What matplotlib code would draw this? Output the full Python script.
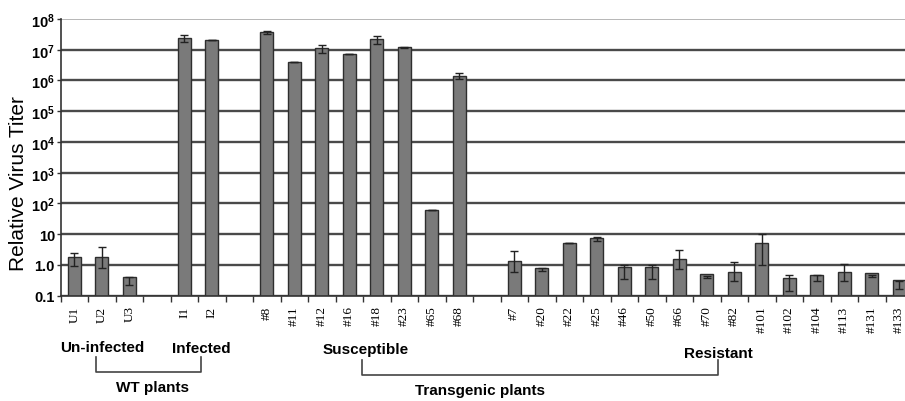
import numpy as np
import matplotlib
matplotlib.use('Agg')
import matplotlib.pyplot as plt
from matplotlib.lines import Line2D

plt.rcParams['font.family'] = ['Liberation Sans', 'DejaVu Sans']
plt.rcParams['mathtext.fontset'] = 'custom'
plt.rcParams['mathtext.bf'] = 'Liberation Sans:bold'
plt.rcParams['mathtext.rm'] = 'Liberation Sans:bold'

# data
group_sizes = [3, 2, 8, 15]
labels = ['U1', 'U2', 'U3',
          'I1', 'I2',
          '#8', '#11', '#12', '#16', '#18', '#23', '#65', '#68',
          '#7', '#20', '#22', '#25', '#46', '#50', '#66', '#70', '#82',
          '#101', '#102', '#104', '#113', '#131', '#133']
titer = [1.7, 1.7, 0.32,
         2.4e7, 2.1e7,
         3.7e7, 3.9e6, 1.1e7, 7.2e6, 2.2e7, 1.2e7, 61, 1.4e6,
         1.2, 0.72, 5.2, 7.2, 0.76, 0.76, 1.46, 0.41, 0.51,
         4.9, 0.29, 0.38, 0.51, 0.44, 0.23]
err_hi = [0.8, 2.2, 0.1,
          0.7e7, 0.05e7,
          0.4e7, 0.05e6, 0.3e7, 0.05e6, 0.7e7, 0.05e7, 1, 0.3e6,
          1.6, 0.1, 0.1, 1.2, 0.26, 0.26, 1.5, 0.02, 0.7,
          5.4, 0.17, 0.08, 0.6, 0.02, 0.07]
err_lo = [0.8, 0.9, 0.1,
          0.6e7, 0.05e7,
          0.4e7, 0.05e6, 0.3e7, 0.05e6, 0.7e7, 0.05e7, 1, 0.3e6,
          0.6, 0.1, 0.1, 1.2, 0.4, 0.4, 0.7, 0.02, 0.2,
          3.9, 0.15, 0.08, 0.2, 0.02, 0.07]
ytick_vals = [0.1, 1, 10, 1e2, 1e3, 1e4, 1e5, 1e6, 1e7, 1e8]
ytick_text = ['0.1', '1.0', '10', r'$\mathbf{10^{2}}$', r'$\mathbf{10^{3}}$',
              r'$\mathbf{10^{4}}$', r'$\mathbf{10^{5}}$', r'$\mathbf{10^{6}}$',
              r'$\mathbf{10^{7}}$', r'$\mathbf{10^{8}}$']

# slot positions, one empty slot between groups
pos = []
start = 0
for n in group_sizes:
    pos += list(range(start, start + n))
    start += n + 1
pos = np.array(pos)

W, H = 905, 402
fig = plt.figure(figsize=(W / 100, H / 100), dpi=100)
ax = fig.add_axes([60.5 / W, (H - 296.7) / H, 852.5 / W, 276.7 / H])

ax.set_yscale('log')
ax.set_ylim(0.1, 1e8)
ax.set_xlim(-0.5, 30.5)

for v in ytick_vals[:-1]:
    ax.axhline(v, color='#4a4a4a', lw=1.7, zorder=0)
ax.axhline(1e8, color='#aaaaaa', lw=1.2, zorder=0)

ax.bar(pos, titer, width=0.48, bottom=0.1, color='#7a7a7a',
       edgecolor='#2e2e2e', linewidth=1, zorder=2)
ax.errorbar(pos, titer, yerr=[err_lo, err_hi], fmt='none', ecolor='#222222',
            elinewidth=1, capsize=3, capthick=1, zorder=3)

ax.set_yticks(ytick_vals)
ax.set_yticklabels(ytick_text, fontsize=10.5, fontweight='bold')
ax.yaxis.set_minor_locator(matplotlib.ticker.NullLocator())
ax.tick_params(axis='y', length=3, width=1, pad=1, color='#333333')

ax.set_xticks(pos)
ax.set_xticklabels(labels, rotation=90, fontsize=9.5,
                   family=['Liberation Serif', 'DejaVu Serif'])
ax.tick_params(axis='x', length=0, pad=7)
ax.set_xticks(np.arange(-0.5, 31, 1), minor=True)
ax.tick_params(axis='x', which='minor', length=4, width=1, color='#333333')

for s in ['top', 'right']:
    ax.spines[s].set_visible(False)
ax.spines['left'].set_color('#333333')
ax.spines['bottom'].set_color('#333333')
ax.spines['left'].set_linewidth(1.2)
ax.spines['bottom'].set_linewidth(1.2)

ax.set_ylabel('Relative Virus Titer', fontsize=15)
ax.yaxis.set_label_coords(-0.038, 0.41)

# group labels and brackets (pixel coords)
def ftext(x, y, s):
    fig.text(x / W, 1 - y / H, s, ha='center', va='center',
             fontsize=11, fontweight='bold')

def bracket(x0, x1, ytop, ybot):
    xs = [x0 / W, x0 / W, x1 / W, x1 / W]
    ys = [1 - ytop / H, 1 - ybot / H, 1 - ybot / H, 1 - ytop / H]
    fig.add_artist(Line2D(xs, ys, color='#444444', lw=1.2))

ftext(102, 348, 'Un-infected')
ftext(201, 349, 'Infected')
ftext(152, 388, 'WT plants')
bracket(96, 201, 358, 373)
ftext(366, 350, 'Susceptible')
ftext(718, 354, 'Resistant')
ftext(480, 391, 'Transgenic plants')
bracket(362, 718, 361, 376)

fig.savefig('out.png', dpi=100)
